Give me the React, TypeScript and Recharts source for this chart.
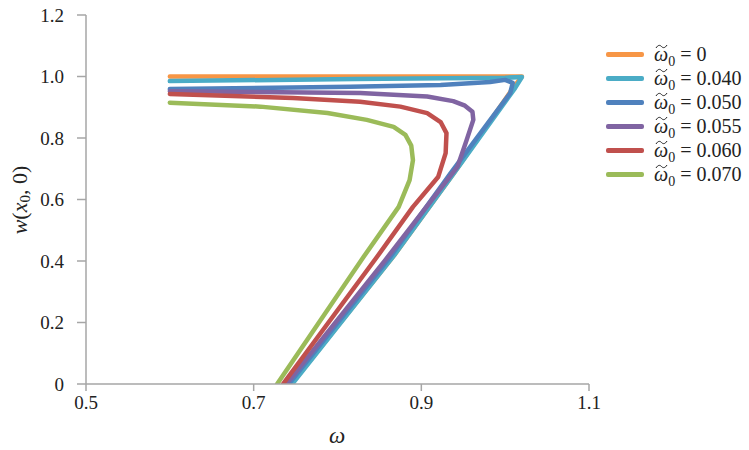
import React from 'react';
import { LineChart, Line, XAxis, YAxis } from 'recharts';

interface Pt {
  omega: number;
  w: number;
}

const toPts = (xs: number[], ys: number[]): Pt[] => xs.map((x, i) => ({ omega: x, w: ys[i] }));

// omega (x) and w(x0,0) (y), one pair of lists per curve
const omega0X = [0.6, 0.8, 1.0, 1.02, 1.01, 0.94, 0.868, 0.745];
const omega0Y = [1.0, 1.0, 1.0, 1.0, 0.965, 0.69, 0.42, 0];

const omega040X = [0.6, 0.82, 1.0, 1.02, 1.012, 0.94, 0.868, 0.746];
const omega040Y = [0.985, 0.992, 0.996, 0.998, 0.963, 0.69, 0.42, 0];

const omega050X = [0.6, 0.815, 0.923, 0.982, 1.0, 1.009, 1.006, 0.935, 0.862, 0.742];
const omega050Y = [0.959, 0.967, 0.972, 0.982, 0.989, 0.979, 0.946, 0.686, 0.41, 0];

const omega055X = [0.6, 0.827, 0.907, 0.938, 0.952, 0.961, 0.962, 0.954, 0.943, 0.857, 0.739];
const omega055Y = [0.952, 0.946, 0.935, 0.92, 0.905, 0.885, 0.859, 0.793, 0.706, 0.403, 0];

const omega060X = [0.6, 0.747, 0.827, 0.875, 0.907, 0.923, 0.93, 0.929, 0.92, 0.89, 0.847, 0.735];
const omega060Y = [0.943, 0.93, 0.918, 0.902, 0.881, 0.852, 0.816, 0.751, 0.673, 0.576, 0.413, 0];

const omega070X = [0.6, 0.708, 0.788, 0.835, 0.867, 0.881, 0.888, 0.89, 0.886, 0.873, 0.831, 0.728];
const omega070Y = [0.915, 0.902, 0.881, 0.859, 0.836, 0.81, 0.775, 0.728, 0.663, 0.576, 0.413, 0];

const seriesLabels = ['0', '0.040', '0.050', '0.055', '0.060', '0.070'];
const COLORS = ['#F79646', '#4BACC6', '#4F81BD', '#8064A2', '#C0504D', '#9BBB59'];

const xTicks = [0.5, 0.7, 0.9, 1.1];
const yTicks = [0, 0.2, 0.4, 0.6, 0.8, 1.0, 1.2];

const series = [
  toPts(omega0X, omega0Y),
  toPts(omega040X, omega040Y),
  toPts(omega050X, omega050Y),
  toPts(omega055X, omega055Y),
  toPts(omega060X, omega060Y),
  toPts(omega070X, omega070Y),
];

const FONT = "'Liberation Serif', 'Times New Roman', 'DejaVu Serif', serif";
const AXIS_GRAY = '#a6a6a6';
const tickStyle = { fontFamily: FONT, fontSize: 19, fill: '#222' };

const YLabel = () => (
  <text
    x={22}
    y={200}
    transform="rotate(-90, 22, 200)"
    textAnchor="middle"
    dominantBaseline="middle"
    fontFamily={FONT}
    fontSize={22}
    fill="#222"
  >
    <tspan fontStyle="italic">w</tspan>
    <tspan>(</tspan>
    <tspan fontStyle="italic">x</tspan>
    <tspan fontSize={15} dy={5}>0</tspan>
    <tspan dy={-5}>, 0)</tspan>
  </text>
);

const XLabel = () => (
  <text x={337} y={443} textAnchor="middle" fontFamily={FONT} fontSize={23} fontStyle="italic" fill="#222">
    ω
  </text>
);

// tilde over omega drawn as a small path so it doesn't collide with the text box
const OmegaTilde = () => (
  <span style={{ position: 'relative', display: 'inline-block', lineHeight: '20px' }}>
    <i>ω</i>
    <svg
      width={13}
      height={5}
      viewBox="0 0 13 5"
      style={{ position: 'absolute', left: 1, top: 0 }}
    >
      <path d="M1 4 C3 0.8, 5 0.8, 6.5 2.5 S10 4.2, 12 1" fill="none" stroke="#222" strokeWidth={1} />
    </svg>
  </span>
);

const LegendBox = () => (
  <div
    style={{
      position: 'absolute',
      left: 606,
      top: 42,
      width: 143,
      fontFamily: FONT,
      fontSize: 20,
      color: '#222',
    }}
  >
    {seriesLabels.map((lab, i) => (
      <div key={lab} style={{ display: 'flex', alignItems: 'center', height: 24 }}>
        <span
          style={{
            display: 'inline-block',
            width: 38,
            height: 5,
            borderRadius: 2,
            background: COLORS[i],
            marginRight: 10,
          }}
        />
        <span style={{ whiteSpace: 'nowrap', lineHeight: '20px' }}>
          <OmegaTilde />
          <sub style={{ fontSize: 14, lineHeight: 0 }}>0</sub>
          {' = ' + lab}
        </span>
      </div>
    ))}
  </div>
);

export default function App() {
  return (
    <div style={{ position: 'absolute', left: 0, top: 0, width: 749, height: 450, background: '#fff' }}>
      <LineChart width={749} height={450} margin={{ top: 15, right: 160, bottom: 36, left: 0 }}>
        <XAxis
          type="number"
          dataKey="omega"
          domain={[0.5, 1.1]}
          ticks={xTicks}
          tickFormatter={(v: number) => v.toFixed(1)}
          height={30}
          tickSize={7}
          tickMargin={5}
          stroke={AXIS_GRAY}
          strokeWidth={1.5}
          tick={tickStyle}
          allowDataOverflow
          label={<XLabel />}
        />
        <YAxis
          type="number"
          dataKey="w"
          domain={[0, 1.2]}
          ticks={yTicks}
          tickFormatter={(v: number) => (v === 0 ? '0' : v.toFixed(1))}
          width={86}
          tickSize={9}
          tickMargin={13}
          stroke={AXIS_GRAY}
          strokeWidth={1.5}
          tick={tickStyle}
          allowDataOverflow
          label={<YLabel />}
        />
        {series.map((pts, i) => (
          <Line
            key={seriesLabels[i]}
            data={pts}
            dataKey="w"
            type="linear"
            stroke={COLORS[i]}
            strokeWidth={4.5}
            dot={false}
            activeDot={false}
            strokeLinejoin="round"
            strokeLinecap="round"
            isAnimationActive={false}
          />
        ))}
      </LineChart>
      <LegendBox />
    </div>
  );
}
